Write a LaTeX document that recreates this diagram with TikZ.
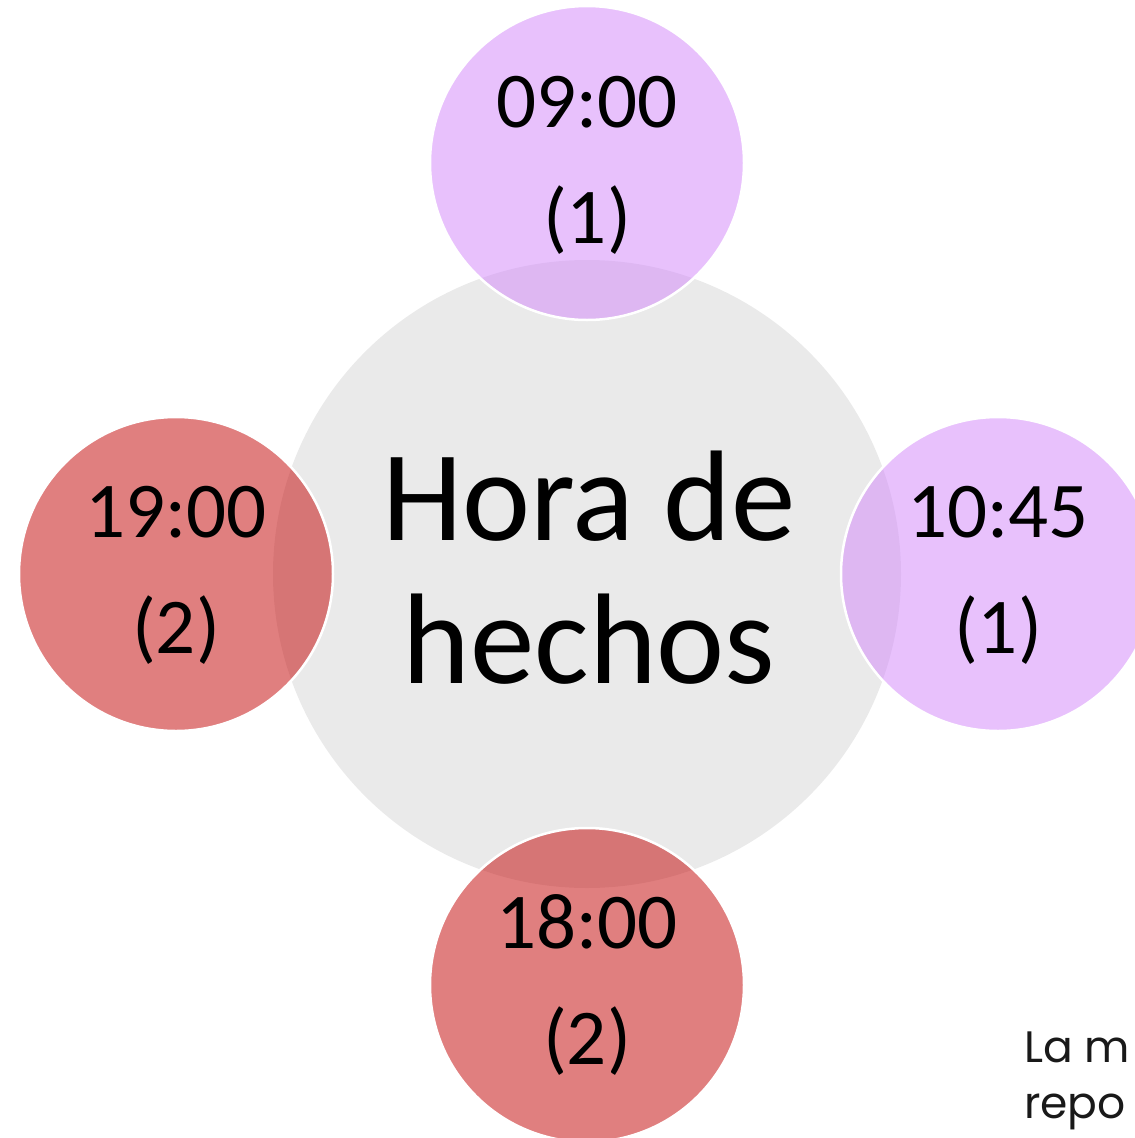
\documentclass[tikz,border=0pt]{standalone}
\usepackage{fontspec}
\setmainfont{Carlito}
\newfontfamily\notefont{Poppins}
\definecolor{hubgrey}{RGB}{234,234,234}
\definecolor{lilac}{RGB}{213,142,250}
\definecolor{rosered}{RGB}{199,22,22}
\begin{document}
\begin{tikzpicture}[x=1pt,y=-1pt,
  hub/.style={circle,fill=hubgrey,draw=none,minimum size=628pt,inner sep=0pt},
  sat/.style={circle,fill opacity=0.55,draw=white,line width=2.5pt,minimum size=314pt,inner sep=0pt},
  purplesat/.style={sat,fill=lilac},
  redsat/.style={sat,fill=rosered},
  bigtxt/.style={anchor=base,inner sep=0pt,font=\fontsize{129}{143}\selectfont},
  smalltxt/.style={anchor=base,inner sep=0pt,font=\fontsize{79}{116}\selectfont},
  notetxt/.style={anchor=base west,inner sep=0pt,font=\notefont\fontsize{44}{56}\selectfont,text=black!90}]
\useasboundingbox (0,0) rectangle (1135,1138);
\clip (0,0) rectangle (1135,1138);
\node[hub] (hub) at (587,574) {};
\node[purplesat] (top) at (587,163) {};
\node[purplesat] (right) at (998,574) {};
\node[redsat] (left) at (176,574) {};
\node[redsat] (bottom) at (587,985) {};
\node[bigtxt] (hubA) at (589,540) {Hora de};
\node[bigtxt] (hubB) at (589,683) {hechos};
\node[smalltxt] (topA) at (587,127) {09:00};
\node[smalltxt] (topB) at (587,243) {(1)};
\node[smalltxt] (rightA) at (998,537) {10:45};
\node[smalltxt] (rightB) at (998,653) {(1)};
\node[smalltxt] (leftA) at (176,537) {19:00};
\node[smalltxt] (leftB) at (176,653) {(2)};
\node[smalltxt] (bottomA) at (587,948) {18:00};
\node[smalltxt] (bottomB) at (587,1064) {(2)};
\node[notetxt] (noteA) at (1024,1062) {La m};
\node[notetxt] (noteB) at (1024,1118) {repo};
\end{tikzpicture}
\end{document}
